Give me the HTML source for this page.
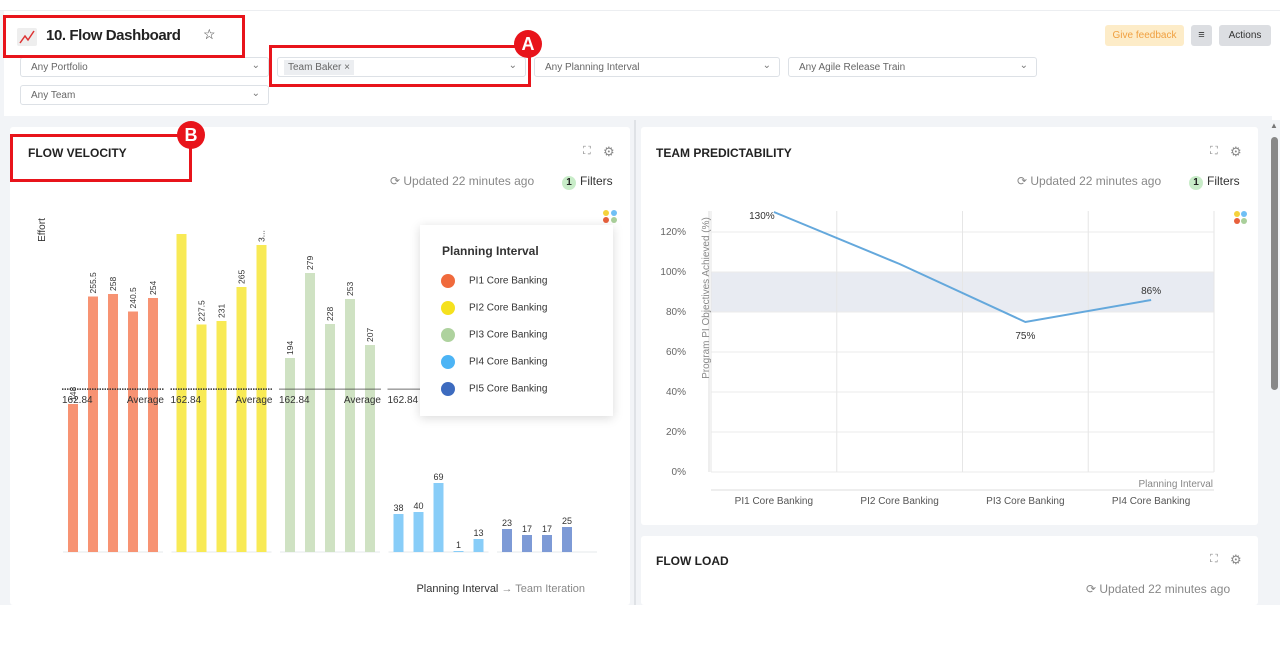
<!DOCTYPE html>
<html><head><meta charset="utf-8">
<style>
*{box-sizing:border-box;margin:0;padding:0}
body{width:1280px;height:666px;background:#fff;font-family:"Liberation Sans",sans-serif;position:relative;overflow:hidden;color:#333}
.abs{position:absolute}
.sel{position:absolute;height:20px;border:1px solid #dde1e6;border-radius:3px;background:#fff;font-size:10px;color:#666;padding:4px 10px}
.sel .chev{position:absolute;right:8px;top:2px;font-size:10px;color:#777}
.card{position:absolute;background:#fff;border-radius:3px}
.ttl{position:absolute;font-size:12px;font-weight:bold;color:#222}
.upd{position:absolute;font-size:12px;color:#888}
.badge{display:inline-block;width:14px;height:14px;border-radius:7px;background:#c8ecc8;color:#222;font-size:10px;text-align:center;line-height:14px;font-weight:bold;margin-right:4px}
.red{position:absolute;border:3px solid #e8141b}
.circ{position:absolute;width:28px;height:28px;border-radius:14px;background:#e8141b;color:#fff;font-weight:bold;font-size:18px;text-align:center;line-height:28px}
</style></head><body>
<div class="abs" style="left:0;top:10px;width:1280px;height:1px;background:#eceef1"></div>
<div class="abs" style="left:0;top:116px;width:1272px;height:489px;background:#f2f4f7"></div>
<div class="abs" style="left:0;top:11px;width:4px;height:594px;background:#f2f4f7"></div>
<div class="abs" style="left:17px;top:28px;width:20px;height:18px;background:#eee;border-radius:2px"><svg width="20" height="18"><polyline points="3,15 8,8 11,12 17,3" fill="none" stroke="#d33" stroke-width="1.5"/></svg></div>
<div class="abs" style="left:46px;top:27px;font-size:15px;font-weight:bold;color:#222;letter-spacing:-0.4px">10. Flow Dashboard</div>
<div class="abs" style="left:203px;top:26px;font-size:14px">☆</div>
<div class="abs" style="left:1105px;top:25px;width:79px;height:21px;background:#fdecc8;border-radius:3px;color:#f0a040;font-size:10px;text-align:center;line-height:21px">Give feedback</div>
<div class="abs" style="left:1191px;top:25px;width:21px;height:21px;background:#dcdee2;border-radius:3px;text-align:center;line-height:21px;font-size:11px">≡</div>
<div class="abs" style="left:1219px;top:25px;width:52px;height:21px;background:#dcdee2;border-radius:3px;text-align:center;line-height:21px;font-size:10px;color:#333">Actions</div>

<div class="sel" style="left:20px;top:57px;width:249px">Any Portfolio<span class="chev">⌄</span></div>
<div class="sel" style="left:277px;top:57px;width:249px;padding:2px 6px"><span style="background:#eceef1;padding:2px 4px;display:inline-block">Team Baker ×</span><span class="chev">⌄</span></div>
<div class="sel" style="left:534px;top:57px;width:246px">Any Planning Interval<span class="chev">⌄</span></div>
<div class="sel" style="left:788px;top:57px;width:249px">Any Agile Release Train<span class="chev">⌄</span></div>
<div class="sel" style="left:20px;top:85px;width:249px">Any Team<span class="chev">⌄</span></div>

<div class="card" style="left:10px;top:127px;width:620px;height:478px"></div>
<div class="abs" style="left:634px;top:120px;width:2px;height:485px;background:#dfe2e6"></div>
<div class="ttl" style="left:28px;top:146px">FLOW VELOCITY</div>
<div class="abs" style="left:583px;top:145px;font-size:11px;color:#888">⛶</div>
<div class="abs" style="left:603px;top:144px;font-size:13px;color:#888">⚙</div>
<div class="upd" style="left:390px;top:174px">⟳ Updated 22 minutes ago</div>
<div class="abs" style="left:562px;top:174px;font-size:12px"><span class="badge">1</span>Filters</div>

<svg class="abs" id="bv" style="left:0;top:0" width="636" height="605"></svg>

<div class="abs" style="left:420px;top:225px;width:193px;height:191px;background:#fff;box-shadow:0 2px 10px rgba(0,0,0,.15)">
<div style="position:absolute;left:22px;top:19px;font-size:12px;font-weight:bold;color:#333">Planning Interval</div>
<div id="legitems"></div>
</div>

<div class="card" style="left:641px;top:127px;width:617px;height:398px"></div>
<div class="ttl" style="left:656px;top:146px">TEAM PREDICTABILITY</div>
<div class="abs" style="left:1210px;top:145px;font-size:11px;color:#888">⛶</div>
<div class="abs" style="left:1230px;top:144px;font-size:13px;color:#888">⚙</div>
<div class="upd" style="left:1017px;top:174px">⟳ Updated 22 minutes ago</div>
<div class="abs" style="left:1189px;top:174px;font-size:12px"><span class="badge">1</span>Filters</div>
<svg class="abs" id="lc" style="left:0;top:0" width="1280" height="530"></svg>

<div class="card" style="left:641px;top:536px;width:617px;height:69px"></div>
<div class="ttl" style="left:656px;top:554px">FLOW LOAD</div>
<div class="abs" style="left:1210px;top:553px;font-size:11px;color:#888">⛶</div>
<div class="abs" style="left:1230px;top:552px;font-size:13px;color:#888">⚙</div>
<div class="upd" style="left:1086px;top:582px">⟳ Updated 22 minutes ago</div>

<div class="abs" style="left:1266px;top:120px;width:14px;height:485px;background:#f2f4f7"></div>
<div class="abs" style="left:1271px;top:137px;width:7px;height:253px;background:#888;border-radius:4px"></div>
<div class="abs" style="left:1270px;top:121px;font-size:8px;color:#777">▲</div>

<div class="red" style="left:3px;top:15px;width:242px;height:43px"></div>
<div class="red" style="left:269px;top:45px;width:262px;height:42px"></div>
<div class="circ" style="left:514px;top:30px">A</div>
<div class="red" style="left:10px;top:134px;width:182px;height:48px"></div>
<div class="circ" style="left:177px;top:121px">B</div>

<script>
const groups = ["PI1 Core Banking","PI2 Core Banking","PI3 Core Banking","PI4 Core Banking","PI5 Core Banking"];
const colors = ["#f79373","#f8ea55","#cfe2c3","#88cdf8","#7d9ad6"];
const legendColors = ["#f06a3c","#f5e11e","#aed29e","#4cb4f5","#3d6bbf"];
const velocity = [[148,255.5,258,240.5,254],[318,227.5,231,265,307],[194,279,228,253,207],[38,40,69,1,13],[23,17,17,25]];
const velocityLabels = [["148","255.5","258","240.5","254"],["","227.5","231","265","3..."],["194","279","228","253","207"],["38","40","69","1","13"],["23","17","17","25"]];
const average = 162.84;
const NS='http://www.w3.org/2000/svg';
function mk(svg,tag,attrs,txt){const e=document.createElementNS(NS,tag);for(const k in attrs)e.setAttribute(k,attrs[k]);if(txt!==undefined)e.textContent=txt;svg.appendChild(e);return e;}
const bv=document.getElementById('bv');
const base=552, yS=v=>base-v*1.0;
const gx=g=>68+g*108.5, bx=(g,i)=>gx(g)+i*20;
let t=mk(bv,'text',{x:45,y:230,'font-size':10,fill:'#333','font-family':'Liberation Sans',transform:'rotate(-90 45 230)','text-anchor':'middle'},'Effort');


velocity.forEach((arr,g)=>{
  let l=mk(bv,'line',{x1:gx(g)-5,x2:gx(g)+95,y1:base,y2:base,stroke:'#e6e8eb'});
  
  
  arr.forEach((v,i)=>{
    const r=mk(bv,'rect',{x:bx(g,i),y:yS(v),width:10,height:base-yS(v),fill:colors[g]});
    
    
    const lab=velocityLabels[g][i];
    if(!lab)return;
    let tx;
    if(g<3){tx=mk(bv,'text',{x:bx(g,i)+8,y:yS(v)-3,'font-size':8.5,fill:'#333','font-family':'Liberation Sans',transform:`rotate(-90 ${bx(g,i)+8} ${yS(v)-3})`},lab);}
    else{tx=mk(bv,'text',{x:bx(g,i)+5,y:yS(v)-3,'font-size':9,fill:'#333','font-family':'Liberation Sans','text-anchor':'middle'},lab);}
    
    
  });
  if(g<4){
    const y=yS(average);
    let a=mk(bv,'line',{x1:gx(g)-6,x2:gx(g)+96,y1:y,y2:y,stroke:'#333','stroke-dasharray':g<2?'1.5 1':'none','stroke-width':g<2?1.5:1,opacity:g<2?1:.7});
    
    
    let a1=mk(bv,'text',{x:gx(g)-6,y:y+14,'font-size':10,fill:'#333','font-family':'Liberation Sans'},average.toFixed(2));
    
    
    let a2=mk(bv,'text',{x:gx(g)+96,y:y+14,'font-size':10,fill:'#333','font-family':'Liberation Sans','text-anchor':'end'},'Average');
    
    
  }
});
let xt=mk(bv,'text',{x:585,y:592,'font-size':11,fill:'#333','font-family':'Liberation Sans','text-anchor':'end'});


xt.innerHTML='Planning Interval <tspan fill="#888">→ Team Iteration</tspan>';
[[606,213,'#f5d23c'],[614,213,'#6fbff5'],[606,220,'#e8603c'],[614,220,'#a9cf9a']].forEach(d=>{let c=mk(bv,'circle',{cx:d[0],cy:d[1],r:3,fill:d[2]});

});
const li=document.getElementById('legitems');
groups.forEach((g,i)=>{
  const d=document.createElement('div');
  
  
  d.style.cssText=`position:absolute;left:21px;top:${49+i*27}px;font-size:10px;color:#333;white-space:nowrap`;
  d.innerHTML=`<span style="display:inline-block;width:14px;height:14px;border-radius:7px;background:${legendColors[i]};vertical-align:middle;margin-right:14px"></span>${g}`;
  li.appendChild(d);
});

const piCats = ["PI1 Core Banking","PI2 Core Banking","PI3 Core Banking","PI4 Core Banking"];
const predict = [130,104,75,86];
const predictLabels = ["130%","","75%","86%"];
const yTicks = [0,20,40,60,80,100,120];
const lc=document.getElementById('lc');
const L=711,R=1214,Y0=472,yP=v=>Y0-v*2.0;
const cw=(R-L)/piCats.length, cx=i=>L+cw*i+cw/2;
let band=mk(lc,'rect',{x:L,y:yP(100),width:R-L,height:yP(80)-yP(100),fill:'#e8ebf2'});


yTicks.forEach(v=>{
  let g=mk(lc,'line',{x1:L,x2:R,y1:yP(v),y2:yP(v),stroke:'#ebebeb'});
  
  
  let tk=mk(lc,'text',{x:686,y:yP(v)+3,'font-size':10,fill:'#666','font-family':'Liberation Sans','text-anchor':'end'},v+'%');
  
  
});
for(let i=0;i<=piCats.length;i++){
  let v=mk(lc,'line',{x1:L+cw*i,x2:L+cw*i,y1:211,y2:Y0,stroke:'#e6e6e6'});
  
  
}
let ax=mk(lc,'line',{x1:L,x2:R,y1:490,y2:490,stroke:'#ddd'});


let yax=mk(lc,'line',{x1:L-2,x2:L-2,y1:211,y2:Y0,stroke:'#ddd'});


piCats.forEach((c,i)=>{let tx=mk(lc,'text',{x:cx(i),y:504,'font-size':10,fill:'#555','font-family':'Liberation Sans','text-anchor':'middle'},c);

});
let pl=mk(lc,'polyline',{points:predict.map((v,i)=>cx(i)+','+Math.max(yP(v),211)).join(' '),fill:'none',stroke:'#64a8dc','stroke-width':2});


predict.forEach((v,i)=>{
  if(!predictLabels[i])return;
  const y=Math.max(yP(v),211);
  const below=i>0&&v<predict[i-1]&&(i==piCats.length-1||v<predict[i+1]);
  let tx=mk(lc,'text',{x:i==0?cx(i)-12:cx(i),y:below?y+17:(i==0?y+7:y-6),'font-size':10,fill:'#333','font-family':'Liberation Sans','text-anchor':'middle'},predictLabels[i]);
  
  
});
let yt=mk(lc,'text',{x:709,y:298,'font-size':10,fill:'#888','font-family':'Liberation Sans','text-anchor':'middle',transform:'rotate(-90 709 298)'},'Program PI Objectives Achieved (%)');


let xt2=mk(lc,'text',{x:1213,y:487,'font-size':10,fill:'#888','font-family':'Liberation Sans','text-anchor':'end'},'Planning Interval');


[[1237,214,'#f5d23c'],[1244,214,'#6fbff5'],[1237,221,'#e8603c'],[1244,221,'#a9cf9a']].forEach(d=>{let c=mk(lc,'circle',{cx:d[0],cy:d[1],r:3,fill:d[2]});

});
</script>
</body></html>
